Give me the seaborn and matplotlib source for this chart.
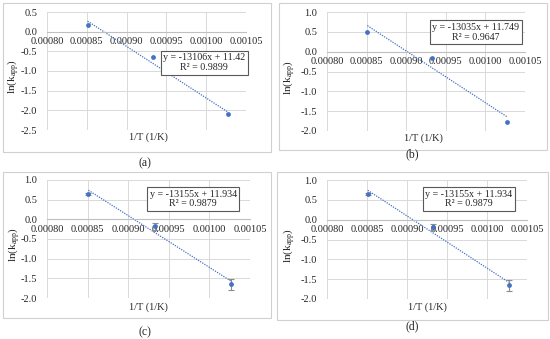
import matplotlib
matplotlib.use("Agg")
import matplotlib.pyplot as plt
import matplotlib.patches as patches
import seaborn as sns
import pandas as pd

sns.set_theme(style="white")
plt.rcParams['font.family'] = ['Liberation Serif', 'DejaVu Serif']
plt.rcParams['mathtext.fontset'] = 'custom'
plt.rcParams['mathtext.rm'] = 'Liberation Serif'
plt.rcParams['mathtext.it'] = 'Liberation Serif'
plt.rcParams['axes.unicode_minus'] = False

# data
inv_T = [0.000851, 0.000933, 0.001027]
lnk_a = [0.17, -0.65, -2.10]
lnk_b = [0.50, -0.15, -1.77]
lnk_c = [0.65, -0.18, -1.65]
lnk_d = [0.65, -0.18, -1.65]
err_cd = [0.03, 0.08, 0.14]

slopes = [-13106, -13035, -13155, -13155]
intercepts = [11.42, 11.749, 11.934, 11.934]
r2 = ["0.9899", "0.9647", "0.9879", "0.9879"]
eq_labels = ["y = -13106x + 11.42", "y = -13035x + 11.749",
             "y = -13155x + 11.934", "y = -13155x + 11.934"]
captions = ["(a)", "(b)", "(c)", "(d)"]
xticks = [0.00080, 0.00085, 0.00090, 0.00095, 0.00100, 0.00105]
yticks_a = [0.5, 0.0, -0.5, -1.0, -1.5, -2.0, -2.5]
yticks_bcd = [1.0, 0.5, 0.0, -0.5, -1.0, -1.5, -2.0]

W, H = 550, 339
fig = plt.figure(figsize=(5.5, 3.39), dpi=100)

blue = "#4472C4"
grid = "#d9d9d9"

# pixel layout: axes (x0, x1, ytop, ybottom), outer box, caption pos, eq box pos,
# xlabel pos, ylabel x
panels = [
    dict(y=lnk_a, err=None, yt=yticks_a, ax=(47, 246, 12, 130), box=(3, 271, 3, 152),
         cap=(145, 163), eq=(0.79, 0.57), xl=(148, 137), yl=21),
    dict(y=lnk_b, err=None, yt=yticks_bcd, ax=(327, 525, 12, 131), box=(279, 547, 3, 150),
         cap=(412, 154), eq=(0.75, 0.83), xl=(423, 138), yl=297),
    dict(y=lnk_c, err=err_cd, yt=yticks_bcd, ax=(47, 250, 180, 298), box=(3, 271, 172, 318),
         cap=(145, 332), eq=(0.72, 0.84), xl=(148, 307), yl=22),
    dict(y=lnk_d, err=err_cd, yt=yticks_bcd, ax=(327, 527, 180, 299), box=(277, 548, 172, 320),
         cap=(412, 326), eq=(0.71, 0.84), xl=(427, 307), yl=297),
]

for i, p in enumerate(panels):
    bx0, bx1, by0, by1 = p['box']
    fig.patches.append(patches.Rectangle((bx0 / W, 1 - by1 / H), (bx1 - bx0) / W, (by1 - by0) / H,
                                         transform=fig.transFigure, fill=False,
                                         edgecolor="#d0d0d0", linewidth=0.8))
    x0, x1, yt, yb = p['ax']
    ax = fig.add_axes([x0 / W, 1 - yb / H, (x1 - x0) / W, (yb - yt) / H])

    df = pd.DataFrame({'x': inv_T, 'y': p['y']})
    fit = pd.DataFrame({'x': [min(inv_T), max(inv_T)]})
    fit['y'] = slopes[i] * fit['x'] + intercepts[i]
    sns.lineplot(data=fit, x='x', y='y', ax=ax, color=blue, linestyle=(0, (1, 1)),
                 linewidth=0.9, zorder=2)
    if p['err'] is not None:
        ax.errorbar(inv_T, p['y'], yerr=p['err'], fmt='none', ecolor="#8c8c8c",
                    elinewidth=0.8, capsize=2, capthick=0.8, zorder=3)
    sns.scatterplot(data=df, x='x', y='y', ax=ax, color=blue, s=12, edgecolor=blue,
                    linewidth=0, zorder=4)

    # axis styling after seaborn has drawn
    ax.set_xlim(xticks[0], xticks[-1])
    ax.set_ylim(min(p['yt']), max(p['yt']))
    ax.set_xticks(xticks)
    ax.set_yticks(p['yt'])
    ax.set_xticklabels(["%.5f" % v for v in xticks])
    ax.set_yticklabels(["%.1f" % v for v in p['yt']])
    ax.grid(True, color=grid, linewidth=0.7)
    ax.set_axisbelow(True)
    for s in ['top', 'right', 'left']:
        ax.spines[s].set_visible(False)
    ax.spines['bottom'].set_position(('data', 0))
    ax.spines['bottom'].set_color("#bfbfbf")
    ax.spines['bottom'].set_linewidth(0.8)
    ax.tick_params(axis='x', length=0, pad=4, labelsize=7.5)
    ax.tick_params(axis='y', length=0, pad=7, labelsize=7.5)
    ax.set_xlabel("")
    ax.set_ylabel(r"ln(k$_{\mathrm{app}}$)", fontsize=8)
    ax.yaxis.set_label_coords(-(x0 - p['yl']) / (x1 - x0), 0.45)

    ax.text(p['eq'][0], p['eq'][1], eq_labels[i] + "\nR² = " + r2[i], transform=ax.transAxes,
            ha='center', va='center', fontsize=7.2, linespacing=1.1,
            bbox=dict(boxstyle='square,pad=0.25', facecolor='white', edgecolor='#595959',
                      linewidth=0.8), zorder=5)

    fig.text(p['xl'][0] / W, 1 - p['xl'][1] / H, "1/T (1/K)", ha='center', va='center', fontsize=7.5)
    fig.text(p['cap'][0] / W, 1 - p['cap'][1] / H, captions[i], ha='center', va='center', fontsize=8.5)

fig.savefig("out.png", dpi=100, facecolor='white')
